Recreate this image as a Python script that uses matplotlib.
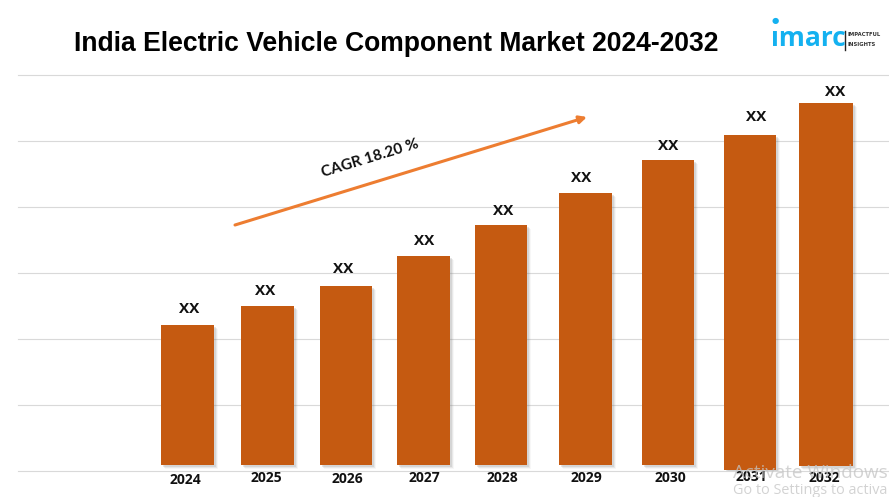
import matplotlib
matplotlib.use("Agg")
import matplotlib.pyplot as plt

years = ["2024", "2025", "2026", "2027", "2028", "2029", "2030", "2031", "2032"]
tops = [146, 165, 185, 215, 246, 278, 311, 336, 368]
bottoms = [6, 6, 6, 6, 6, 6, 6, 1, 5]
centers = [187.5, 267.5, 346, 423.5, 501, 585.5, 668, 750, 826]
widths = [53, 53, 52, 53, 52, 53, 52, 52, 54]
xx_x = [189, 265.5, 343, 424, 503, 581, 668, 756, 835]
xx_y = [162, 180, 202, 230, 260, 293, 325, 354, 379]
year_x = [185, 266, 347, 424, 502, 586, 670, 751, 824]
year_y = [-9, -7, -8, -7, -7, -7, -7, -6, -7]
gridlines = [0, 66, 132, 198, 264, 330, 396]

bar_color = "#C55A11"
arrow_color = "#ED7D31"

fig = plt.figure(figsize=(8.89, 4.97), dpi=100)
# one axes unit = one pixel, x counted from the left of the figure
ax = fig.add_axes([0, 26 / 497, 1, 396 / 497])
ax.set_xlim(0, 889)
ax.set_ylim(0, 396)
ax.axis("off")

for g in gridlines:
    ax.plot([18, 889], [g, g], color="#D9D9D9", lw=0.8, zorder=1, clip_on=False)

# soft shadow behind the bars
for off, a in [(4, 0.06), (3, 0.12), (2, 0.18)]:
    ax.bar(
        [c + off for c in centers],
        [t - b for t, b in zip(tops, bottoms)],
        width=widths,
        bottom=[b - off for b in bottoms],
        color="#7F7F7F",
        alpha=a,
        zorder=2,
    )
ax.bar(
    centers,
    [t - b for t, b in zip(tops, bottoms)],
    width=widths,
    bottom=bottoms,
    color=bar_color,
    zorder=3,
)

for x, y in zip(xx_x, xx_y):
    ax.text(x, y, "XX", ha="center", va="center", fontsize=11, fontweight="bold",
            family="Open Sans", color="#111111", zorder=5)

for x, y, label in zip(year_x, year_y, years):
    ax.text(x, y, label, ha="center", va="center", fontsize=10, fontweight="bold",
            family="Open Sans", color="#111111", zorder=5, clip_on=False)

# CAGR arrow
ax.annotate("", xy=(587, 354), xytext=(235, 246),
            arrowprops=dict(arrowstyle="-|>", color=arrow_color, lw=2.2,
                            mutation_scale=11, shrinkA=0, shrinkB=0), zorder=4)
ax.text(370, 313, "CAGR 18.20 %", rotation=17, ha="center", va="center", fontsize=11,
        fontweight="bold", family="Lato", color="#111111", rotation_mode="anchor")

fig.text(396 / 889, 1 - 44 / 497, "India Electric Vehicle Component Market 2024-2032",
         ha="center", va="center", fontsize=19.1, fontweight="bold",
         family="Liberation Sans", color="black")

# logo
fig.text(771 / 889, 1 - 38 / 497, "ımarc", ha="left", va="center", fontsize=19,
         fontweight="bold", family="Open Sans", color="#14B1F0")
fig.text(775 / 889, 1 - 20 / 497, "●", ha="center", va="center", fontsize=6, color="#14B1F0")
fig.add_artist(plt.Line2D([845 / 889, 845 / 889], [1 - 50 / 497, 1 - 31 / 497], color="#222222", lw=1))
fig.text(848 / 889, 1 - 35 / 497, "IMPACTFUL", ha="left", va="center", fontsize=3.8,
         fontweight="bold", color="#333333")
fig.text(848 / 889, 1 - 44 / 497, "INSIGHTS", ha="left", va="center", fontsize=3.8,
         fontweight="bold", color="#333333")

# watermark from the screenshot, cut by the picture edge there too
fig.text(733 / 889, 1 - 473 / 497, "Activate Windows", ha="left", va="center", fontsize=13.6,
         family="Open Sans", color="#C4C4C4", alpha=0.75, zorder=10)
fig.text(733 / 889, 1 - 491 / 497, "Go to Settings to activa", ha="left", va="center",
         fontsize=10.4, family="Open Sans", color="#C4C4C4", alpha=0.75, zorder=10)

fig.savefig("out.png", dpi=100)
